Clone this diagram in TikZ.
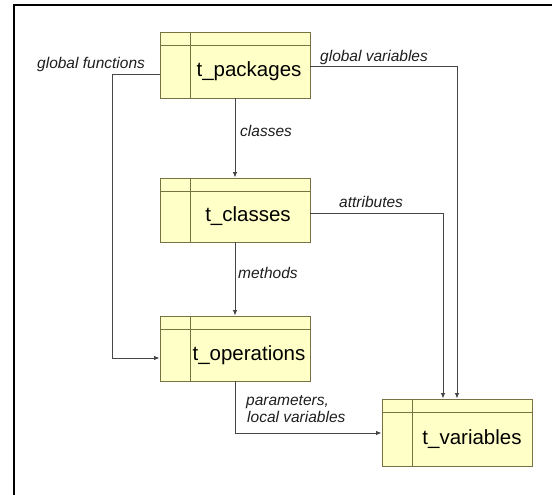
\documentclass[tikz,border=0pt]{standalone}
\usepackage{fontspec}
\setmainfont{Liberation Sans}
\usetikzlibrary{arrows.meta,calc}
\definecolor{boxfill}{RGB}{255,255,200}
\definecolor{boxline}{RGB}{120,114,66}
\definecolor{conn}{RGB}{70,70,70}
\definecolor{lbl}{RGB}{30,30,30}
\tikzset{
  tbox/.style={draw=boxline, line width=0.9pt, fill=boxfill, rectangle, minimum width=150pt, inner sep=0pt,
    path picture={
      \draw[boxline, line width=0.9pt] ([xshift=30pt]path picture bounding box.north west) -- ([xshift=30pt]path picture bounding box.south west);
      \draw[boxline, line width=0.9pt] ([yshift=-13pt]path picture bounding box.north west) -- ([yshift=-13pt]path picture bounding box.north east);
    }},
  ttext/.style={font=\fontsize{20.5}{22}\selectfont, text=black, inner sep=0pt},
  elbl/.style={font=\fontsize{15.5}{17}\selectfont\itshape, text=lbl, inner sep=0pt, anchor=base west, align=left},
  conn/.style={draw=conn, line width=0.9pt, -{Latex[length=5.5pt,width=4.5pt]}},
  frameline/.style={draw=black, line width=1.4pt}
}
\begin{document}
\begin{tikzpicture}[x=1pt,y=-1pt]
\useasboundingbox (0,0) rectangle (552,495);
\coordinate (ftl) at (14,5);
\coordinate (ftr) at (552,5);
\coordinate (fbl) at (14,495);
\draw[frameline] (ftr) -- (ftl) -- (fbl);

\node[tbox, minimum height=66pt] (pk) at (235,65) {};
\node[tbox, minimum height=64pt] (cl) at (235,210) {};
\node[tbox, minimum height=65pt] (op) at (235,348.5) {};
\node[tbox, minimum height=67pt] (va) at (457,432.5) {};

\node[ttext] (pkt) at (249,71.5) {t\_packages};
\node[ttext] (clt) at (248,216.5) {t\_classes};
\node[ttext] (opt) at (249,355) {t\_operations};
\node[ttext] (vat) at (472,439.5) {t\_variables};

\coordinate (gf1) at (112,74);
\coordinate (gf2) at (112,358);
\coordinate (gv1) at (457,66);
\coordinate (at1) at (443,213);
\coordinate (pa1) at (235,433);

\draw[conn] (pk.south) -- (cl.north);
\draw[conn] (cl.south) -- (op.north);
\draw[conn] (pk.west |- gf1) -- (gf1) -- (gf2) -- (op.west |- gf2);
\draw[conn] (pk.east |- gv1) -- (gv1) -- (gv1 |- va.north);
\draw[conn] (cl.east |- at1) -- (at1) -- (at1 |- va.north);
\draw[conn] (op.south) -- (pa1) -- (va.west |- pa1);

\node[elbl] (lgf) at (37,69) {global functions};
\node[elbl] (lgv) at (320,62) {global variables};
\node[elbl] (lcl) at (240,136) {classes};
\node[elbl] (lat) at (339,207) {attributes};
\node[elbl] (lme) at (238,278) {methods};
\node[elbl] (lpa) at (246,405) {parameters,};
\node[elbl] (llv) at (247,422) {local variables};
\end{tikzpicture}
\end{document}
